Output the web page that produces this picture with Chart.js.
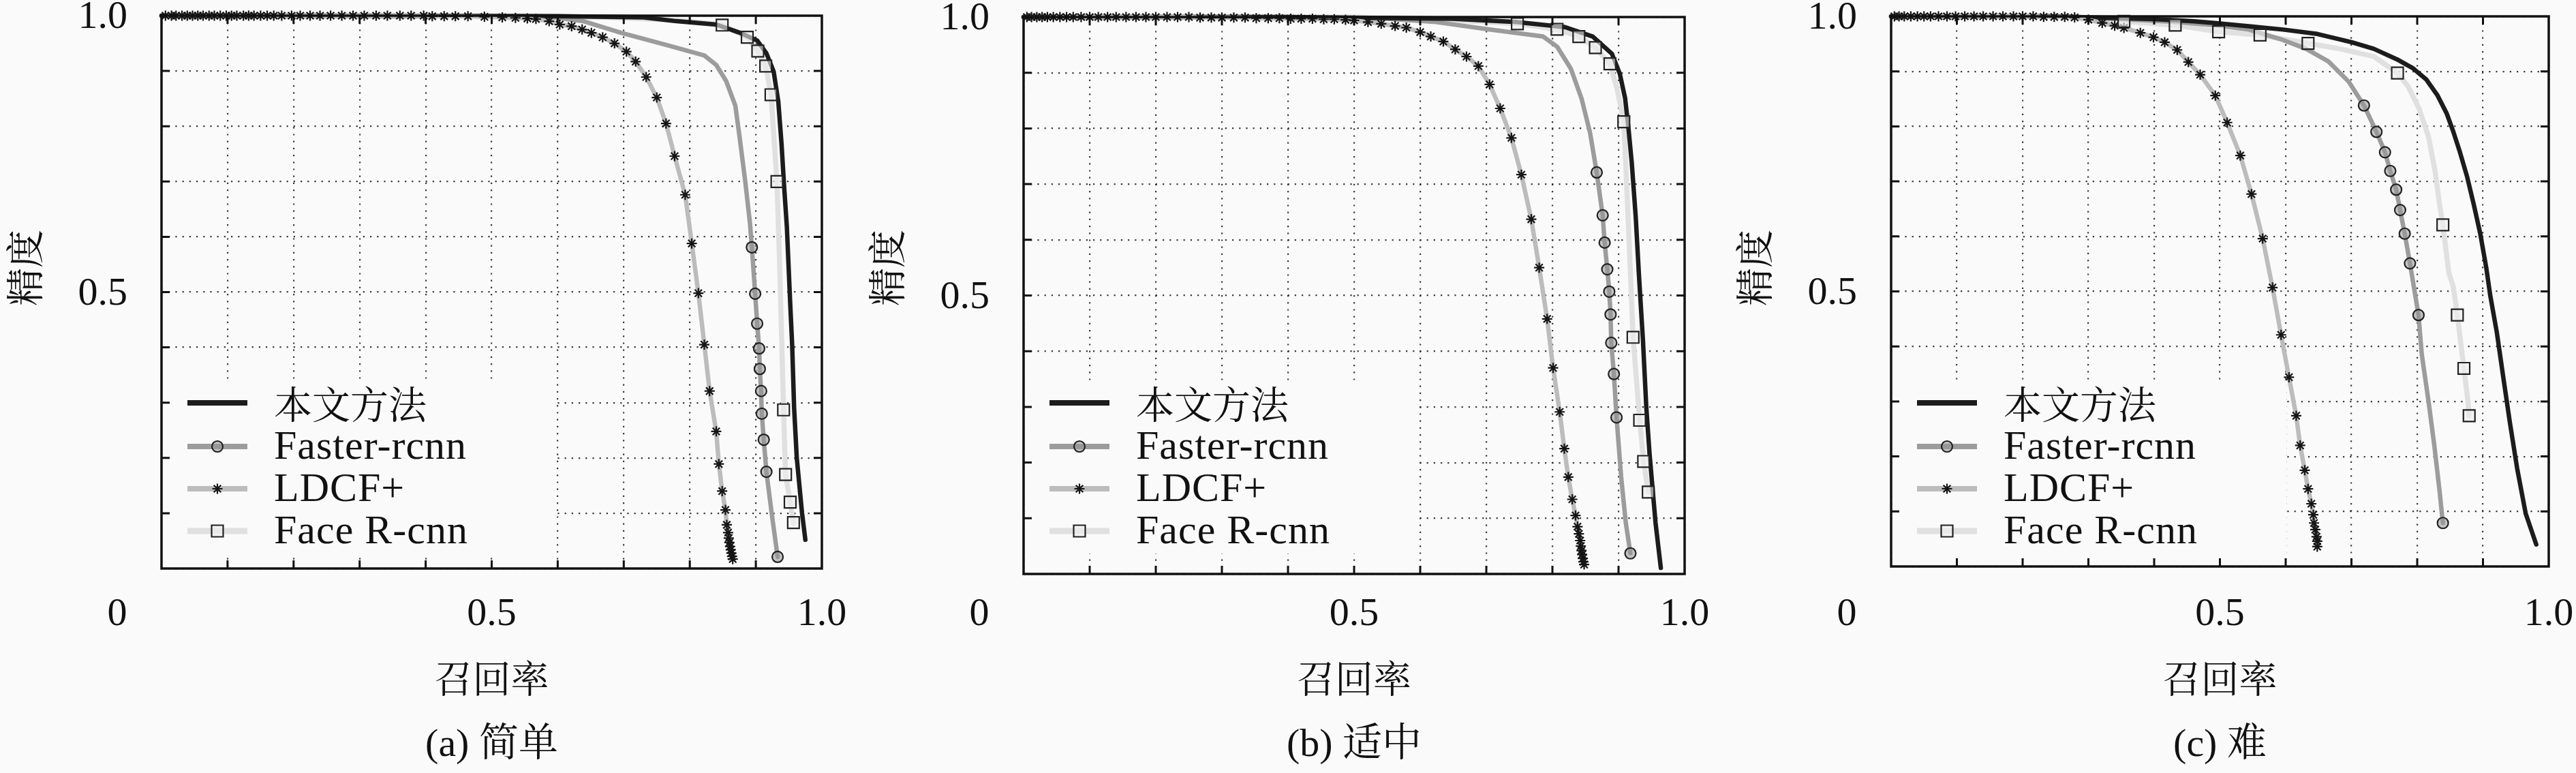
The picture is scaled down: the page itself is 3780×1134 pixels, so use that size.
<!DOCTYPE html>
<html>
<head>
<meta charset="utf-8">
<title>PR curves</title>
<script src="https://cdn.jsdelivr.net/npm/chart.js@4/dist/chart.umd.min.js"></script>
<style>
  html, body { margin: 0; padding: 0; background: #fafafa; overflow: hidden; }
  #wrap { position: relative; width: 3780px; height: 1134px; }
  canvas { position: absolute; top: 0; }
</style>
</head>
<body>
<div id="wrap">
  <canvas id="panel-a" width="1260" height="1134" style="left:0px"></canvas>
  <canvas id="panel-b" width="1260" height="1134" style="left:1260px"></canvas>
  <canvas id="panel-c" width="1260" height="1134" style="left:2520px"></canvas>
</div>
<script>
// ---- labels ----
var seriesNames = ['本文方法', 'Faster-rcnn', 'LDCF+', 'Face R-cnn']
var recallTicks = [0.5, 1.0]
var recallTickLabels = ['0.5', '1.0']
var precisionTicks = [0.5, 1.0]
var precisionTickLabels = ['0.5', '1.0']
var originLabel = '0'
var recallTitle = '召回率'
var precisionTitle = '精度'
var panelCaptions = ['(a) 简单', '(b) 适中', '(c) 难']

// ---- (a) 简单 : [recall, precision] ----
var oursA = [[0,1],[0.3,1],[0.6,0.999],[0.73,0.997],[0.78,0.99],[0.84,0.984],[0.876,0.969],[0.902,0.955],[0.916,0.932],[0.927,0.899],[0.934,0.845],[0.939,0.767],[0.943,0.688],[0.947,0.618],[0.952,0.481],[0.955,0.405],[0.958,0.29],[0.962,0.2],[0.97,0.1],[0.975,0.052]]
var fasterA = [[0,1],[0.4,1],[0.55,0.998],[0.6,0.996],[0.639,0.99],[0.696,0.969],[0.768,0.946],[0.822,0.928],[0.84,0.911],[0.855,0.882],[0.869,0.837],[0.876,0.775],[0.884,0.7],[0.891,0.626],[0.894,0.581],[0.899,0.497],[0.902,0.443],[0.905,0.398],[0.906,0.361],[0.908,0.321],[0.909,0.28],[0.912,0.233],[0.916,0.175],[0.924,0.1],[0.933,0.021]]
var fasterMarksA = [[0.894,0.581],[0.899,0.497],[0.902,0.443],[0.905,0.398],[0.906,0.361],[0.908,0.321],[0.909,0.28],[0.912,0.233],[0.916,0.175],[0.933,0.021]]
var ldcfA = [[0.006,1],[0.015,1],[0.022,1],[0.031,1],[0.039,1],[0.047,1],[0.055,1],[0.063,1],[0.072,1],[0.08,1],[0.089,1],[0.098,1],[0.106,1],[0.114,1],[0.124,1],[0.132,1],[0.14,1],[0.15,1],[0.16,1],[0.17,1],[0.182,1],[0.197,1],[0.21,1],[0.225,1],[0.24,1],[0.256,1],[0.273,1],[0.29,1],[0.307,1],[0.325,1],[0.342,1],[0.361,1],[0.378,1],[0.397,1],[0.41,0.999],[0.428,0.999],[0.445,0.999],[0.464,0.999],[0.489,0.998],[0.516,0.997],[0.536,0.996],[0.554,0.995],[0.567,0.994],[0.587,0.99],[0.603,0.984],[0.621,0.981],[0.637,0.975],[0.651,0.969],[0.668,0.961],[0.686,0.95],[0.704,0.935],[0.718,0.917],[0.734,0.889],[0.75,0.852],[0.764,0.805],[0.777,0.746],[0.793,0.676],[0.803,0.588],[0.813,0.498],[0.822,0.405],[0.83,0.321],[0.84,0.248],[0.844,0.189],[0.849,0.14],[0.854,0.106],[0.856,0.079],[0.858,0.065],[0.859,0.055],[0.86,0.047],[0.861,0.04],[0.862,0.034],[0.863,0.028],[0.864,0.022],[0.865,0.017]]
var faceA = [[0,1],[0.4,1],[0.6,0.999],[0.7,0.996],[0.8,0.99],[0.849,0.983],[0.887,0.961],[0.903,0.936],[0.915,0.909],[0.923,0.857],[0.932,0.7],[0.936,0.55],[0.939,0.42],[0.942,0.287],[0.945,0.17],[0.952,0.12],[0.957,0.083]]
var faceMarksA = [[0.849,0.983],[0.887,0.961],[0.903,0.936],[0.915,0.909],[0.923,0.857],[0.932,0.7],[0.942,0.287],[0.945,0.17],[0.952,0.12],[0.957,0.083]]

// ---- (b) 适中 ----
var oursB = [[0,1],[0.4,1],[0.649,0.997],[0.745,0.991],[0.819,0.982],[0.861,0.965],[0.89,0.934],[0.902,0.898],[0.91,0.854],[0.915,0.801],[0.92,0.739],[0.926,0.642],[0.931,0.535],[0.937,0.419],[0.942,0.3],[0.947,0.215],[0.956,0.092],[0.964,0.011]]
var fasterB = [[0,1],[0.4,1],[0.55,0.997],[0.624,0.991],[0.703,0.978],[0.786,0.965],[0.807,0.947],[0.828,0.907],[0.844,0.854],[0.857,0.792],[0.867,0.721],[0.876,0.644],[0.879,0.595],[0.883,0.547],[0.886,0.507],[0.888,0.466],[0.889,0.415],[0.893,0.359],[0.897,0.281],[0.904,0.174],[0.911,0.092],[0.918,0.037]]
var fasterMarksB = [[0.867,0.721],[0.876,0.644],[0.879,0.595],[0.883,0.547],[0.886,0.507],[0.888,0.466],[0.889,0.415],[0.893,0.359],[0.897,0.281],[0.918,0.037]]
var ldcfB = [[0.005,1],[0.012,1],[0.02,1],[0.028,1],[0.036,1],[0.045,1],[0.055,1],[0.065,1],[0.075,1],[0.087,1],[0.1,1],[0.113,1],[0.127,1],[0.14,1],[0.155,1],[0.17,1],[0.185,1],[0.2,1],[0.217,1],[0.233,1],[0.25,1],[0.267,0.999],[0.284,0.999],[0.3,0.999],[0.318,0.999],[0.335,0.999],[0.352,0.998],[0.37,0.998],[0.387,0.998],[0.404,0.997],[0.42,0.997],[0.437,0.997],[0.454,0.996],[0.47,0.996],[0.487,0.995],[0.5,0.994],[0.521,0.991],[0.541,0.988],[0.562,0.984],[0.579,0.981],[0.6,0.973],[0.616,0.965],[0.635,0.956],[0.653,0.942],[0.67,0.929],[0.688,0.912],[0.705,0.879],[0.721,0.836],[0.738,0.783],[0.753,0.717],[0.768,0.637],[0.78,0.55],[0.792,0.458],[0.801,0.37],[0.811,0.291],[0.818,0.225],[0.824,0.174],[0.83,0.134],[0.835,0.105],[0.838,0.085],[0.84,0.072],[0.842,0.06],[0.843,0.05],[0.844,0.042],[0.845,0.035],[0.846,0.028],[0.847,0.022],[0.848,0.017]]
var faceB = [[0,1],[0.5,1],[0.6,0.998],[0.747,0.988],[0.807,0.978],[0.84,0.965],[0.865,0.945],[0.887,0.916],[0.898,0.87],[0.908,0.812],[0.913,0.68],[0.918,0.54],[0.922,0.425],[0.932,0.276],[0.938,0.202],[0.945,0.147]]
var faceMarksB = [[0.747,0.988],[0.807,0.978],[0.84,0.965],[0.865,0.945],[0.887,0.916],[0.908,0.812],[0.922,0.425],[0.932,0.276],[0.938,0.202],[0.945,0.147]]

// ---- (c) 难 ----
var oursC = [[0,1],[0.25,1],[0.3,0.998],[0.4,0.995],[0.461,0.991],[0.492,0.988],[0.544,0.982],[0.596,0.976],[0.648,0.968],[0.7,0.953],[0.734,0.941],[0.769,0.922],[0.793,0.906],[0.814,0.885],[0.831,0.856],[0.845,0.823],[0.855,0.79],[0.865,0.753],[0.876,0.708],[0.886,0.658],[0.896,0.604],[0.905,0.543],[0.911,0.493],[0.921,0.426],[0.931,0.343],[0.941,0.261],[0.952,0.178],[0.965,0.096],[0.981,0.04]]
var fasterC = [[0,1],[0.25,1],[0.35,0.995],[0.43,0.99],[0.492,0.984],[0.544,0.976],[0.596,0.957],[0.631,0.941],[0.665,0.918],[0.696,0.881],[0.719,0.838],[0.738,0.79],[0.751,0.753],[0.759,0.719],[0.768,0.685],[0.774,0.648],[0.781,0.605],[0.789,0.551],[0.802,0.457],[0.807,0.385],[0.817,0.302],[0.826,0.22],[0.834,0.137],[0.839,0.079]]
var fasterMarksC = [[0.719,0.838],[0.738,0.79],[0.751,0.753],[0.759,0.719],[0.768,0.685],[0.774,0.648],[0.781,0.605],[0.789,0.551],[0.802,0.457],[0.839,0.079]]
var ldcfC = [[0.005,1],[0.012,1],[0.02,1],[0.03,1],[0.04,1],[0.05,1],[0.06,1],[0.072,1],[0.085,1],[0.098,1],[0.112,1],[0.126,1],[0.14,1],[0.155,1],[0.17,1],[0.186,1],[0.2,1],[0.216,1],[0.232,0.999],[0.248,0.999],[0.264,0.999],[0.279,0.998],[0.3,0.994],[0.321,0.988],[0.34,0.983],[0.354,0.979],[0.379,0.97],[0.399,0.962],[0.416,0.953],[0.435,0.939],[0.452,0.917],[0.47,0.894],[0.493,0.856],[0.511,0.807],[0.531,0.747],[0.548,0.677],[0.565,0.596],[0.58,0.507],[0.593,0.421],[0.605,0.344],[0.616,0.274],[0.622,0.22],[0.629,0.175],[0.634,0.141],[0.639,0.114],[0.642,0.094],[0.643,0.079],[0.645,0.067],[0.647,0.054],[0.648,0.046],[0.648,0.036]]
var faceC = [[0,1],[0.25,1],[0.354,0.991],[0.432,0.984],[0.498,0.972],[0.561,0.966],[0.634,0.951],[0.682,0.941],[0.734,0.927],[0.77,0.897],[0.786,0.873],[0.803,0.832],[0.817,0.782],[0.827,0.72],[0.834,0.658],[0.839,0.621],[0.848,0.534],[0.855,0.508],[0.861,0.457],[0.871,0.36],[0.877,0.302],[0.879,0.274]]
var faceMarksC = [[0.354,0.991],[0.432,0.984],[0.498,0.972],[0.561,0.966],[0.634,0.951],[0.77,0.897],[0.839,0.621],[0.861,0.457],[0.871,0.36],[0.879,0.274]]

// ---- look ----
var pageColor = '#fafafa'
var inkColor = '#111111'
var gridColor = 'rgba(35,35,35,0.9)'
var serif = '"Liberation Serif", "DejaVu Serif", serif'
var cjk = '"Noto Serif CJK SC", "Noto Sans CJK SC", sans-serif'
var seriesStyles = [
    { color: '#1c1c1c', width: 6.5, marker: null },
    { color: '#9c9c9c', width: 6.5, marker: { style: 'circle', radius: 8, fill: 'rgba(150,150,150,0.55)', stroke: '#222', bw: 2.2 } },
    { color: '#bcbcbc', width: 6.5, marker: { style: 'star', radius: 7.5, fill: '#151515', stroke: '#151515', bw: 2.2 } },
    { color: '#e0e0e0', width: 7.5, marker: { style: 'rect', radius: 12, fill: 'rgba(238,238,238,0.6)', stroke: '#222', bw: 2.2 } }
]
// plot boxes measured in page pixels
var panelBoxes = [
    { left: 237, right: 1206, top: 23, bottom: 834 },
    { left: 1502, right: 2472, top: 25, bottom: 842 },
    { left: 2775, right: 3740, top: 24, bottom: 831 }
]
var canvasOffsets = [0, 1260, 2520]

var $ = function (id) {
    return document.getElementById(id)
}

function toPoints(arr) {
    return arr.map(function (p) { return { x: p[0], y: p[1] } })
}

function lineSet(label, arr, st) {
    return {
        label: label,
        data: toPoints(arr),
        showLine: true,
        borderColor: st.color,
        borderWidth: st.width,
        borderJoinStyle: 'round',
        borderCapStyle: 'round',
        pointRadius: 0,
        pointHoverRadius: 0,
        tension: 0,
        clip: false
    }
}

function markerSet(label, arr, mk) {
    return {
        label: label,
        data: toPoints(arr),
        showLine: false,
        pointStyle: mk.style,
        pointRadius: mk.radius,
        pointHoverRadius: mk.radius,
        pointBackgroundColor: mk.fill,
        pointBorderColor: mk.stroke,
        pointBorderWidth: mk.bw,
        clip: false
    }
}

function drawMarker(ctx, mk, x, y) {
    ctx.save()
    ctx.fillStyle = mk.fill
    ctx.strokeStyle = mk.stroke
    ctx.lineWidth = mk.bw
    Chart.helpers.drawPoint(ctx, { pointStyle: mk.style, radius: mk.radius, borderWidth: mk.bw, rotation: 0 }, x, y)
    ctx.restore()
}

function decorPlugin(caption) {
    return {
        id: 'decor',
        afterDraw: function (chart) {
            var ctx = chart.ctx
            var a = chart.chartArea
            var xs = chart.scales.x
            var ys = chart.scales.y

            // legend (no frame, just covers the grid)
            var rows = [591, 655, 717, 779]
            ctx.save()
            ctx.fillStyle = pageColor
            ctx.fillRect(a.left + 2, 558, 578, 254)
            for (var i = 0; i < seriesNames.length; i++) {
                var st = seriesStyles[i]
                var y = rows[i]
                var x0 = a.left + 38, x1 = a.left + 126
                ctx.strokeStyle = st.color
                ctx.lineWidth = st.width + 1.5
                ctx.lineCap = 'butt'
                ctx.beginPath()
                ctx.moveTo(x0, y)
                ctx.lineTo(x1, y)
                ctx.stroke()
                if (st.marker) drawMarker(ctx, st.marker, (x0 + x1) / 2, y)
                var isCjk = /[\u4e00-\u9fff]/.test(seriesNames[i])
                ctx.fillStyle = inkColor
                ctx.font = isCjk ? '56px ' + cjk : '60px ' + serif
                ctx.letterSpacing = isCjk ? '0px' : '1px'
                ctx.textAlign = 'left'
                ctx.textBaseline = 'middle'
                ctx.fillText(seriesNames[i], a.left + 165, y + 2)
            }
            ctx.letterSpacing = '0px'
            ctx.restore()

            // box and inward ticks
            ctx.save()
            ctx.strokeStyle = inkColor
            ctx.lineWidth = 3.5
            ctx.strokeRect(a.left, a.top, a.right - a.left, a.bottom - a.top)
            ctx.lineWidth = 3
            ctx.beginPath()
            xs.ticks.forEach(function (t) {
                if (t.value <= 0.001 || t.value >= 0.999) return
                var px = xs.getPixelForValue(t.value)
                ctx.moveTo(px, a.bottom); ctx.lineTo(px, a.bottom - 12)
                ctx.moveTo(px, a.top); ctx.lineTo(px, a.top + 12)
            })
            ys.ticks.forEach(function (t) {
                if (t.value <= 0.001 || t.value >= 0.999) return
                var py = ys.getPixelForValue(t.value)
                ctx.moveTo(a.left, py); ctx.lineTo(a.left + 12, py)
                ctx.moveTo(a.right, py); ctx.lineTo(a.right - 12, py)
            })
            ctx.stroke()
            ctx.restore()

            // tick labels and titles
            ctx.save()
            ctx.fillStyle = inkColor
            ctx.font = '58px ' + serif
            ctx.textBaseline = 'middle'
            ctx.textAlign = 'right'
            precisionTicks.forEach(function (v, k) {
                ctx.fillText(precisionTickLabels[k], a.left - 50, ys.getPixelForValue(v) + 3)
            })
            ctx.textAlign = 'center'
            recallTicks.forEach(function (v, k) {
                ctx.fillText(recallTickLabels[k], xs.getPixelForValue(v), 902)
            })
            ctx.fillText(originLabel, a.left - 65, 902)

            var cx = (a.left + a.right) / 2
            ctx.font = '56px ' + cjk
            ctx.fillText(recallTitle, cx, 995)
            ctx.font = '58px ' + serif + ', ' + cjk
            ctx.fillText(caption, cx, 1094)

            ctx.translate(a.left - 201, 393)
            ctx.rotate(-Math.PI / 2)
            ctx.font = '56px ' + cjk
            ctx.fillText(precisionTitle, 0, 0)
            ctx.restore()
        }
    }
}

function buildPanel(id, k, ours, faster, fasterMarks, ldcf, face, faceMarks) {
    var box = panelBoxes[k]
    var off = canvasOffsets[k]
    var ldcfSet = lineSet(seriesNames[2], ldcf, seriesStyles[2])
    var mk = seriesStyles[2].marker
    ldcfSet.pointStyle = mk.style
    ldcfSet.pointRadius = mk.radius
    ldcfSet.pointHoverRadius = mk.radius
    ldcfSet.pointBackgroundColor = mk.fill
    ldcfSet.pointBorderColor = mk.stroke
    ldcfSet.pointBorderWidth = mk.bw

    // first dataset is painted last (on top)
    var datasets = [
        markerSet('faceMarks', faceMarks, seriesStyles[3].marker),
        markerSet('fasterMarks', fasterMarks, seriesStyles[1].marker),
        ldcfSet,
        lineSet(seriesNames[0], ours, seriesStyles[0]),
        lineSet(seriesNames[1], faster, seriesStyles[1]),
        lineSet(seriesNames[3], face, seriesStyles[3])
    ]

    var axis = function () {
        return {
            type: 'linear',
            min: 0,
            max: 1,
            ticks: { display: false, stepSize: 0.1 },
            grid: { drawTicks: false, color: gridColor, lineWidth: 2.2 },
            border: { display: false, dash: [2.2, 8] },
            afterFit: function (s) {
                if (s.isHorizontal()) s.height = 0
                else s.width = 0
            }
        }
    }

    return new Chart($(id).getContext('2d'), {
        type: 'scatter',
        data: { datasets: datasets },
        options: {
            responsive: false,
            devicePixelRatio: 1,
            animation: false,
            events: [],
            layout: {
                autoPadding: false,
                padding: {
                    left: box.left - off,
                    right: off + 1260 - box.right,
                    top: box.top,
                    bottom: 1134 - box.bottom
                }
            },
            plugins: { legend: { display: false }, tooltip: { enabled: false } },
            scales: { x: axis(), y: axis() }
        },
        plugins: [decorPlugin(panelCaptions[k])]
    })
}

buildPanel('panel-a', 0, oursA, fasterA, fasterMarksA, ldcfA, faceA, faceMarksA)
buildPanel('panel-b', 1, oursB, fasterB, fasterMarksB, ldcfB, faceB, faceMarksB)
buildPanel('panel-c', 2, oursC, fasterC, fasterMarksC, ldcfC, faceC, faceMarksC)
</script>
</body>
</html>
